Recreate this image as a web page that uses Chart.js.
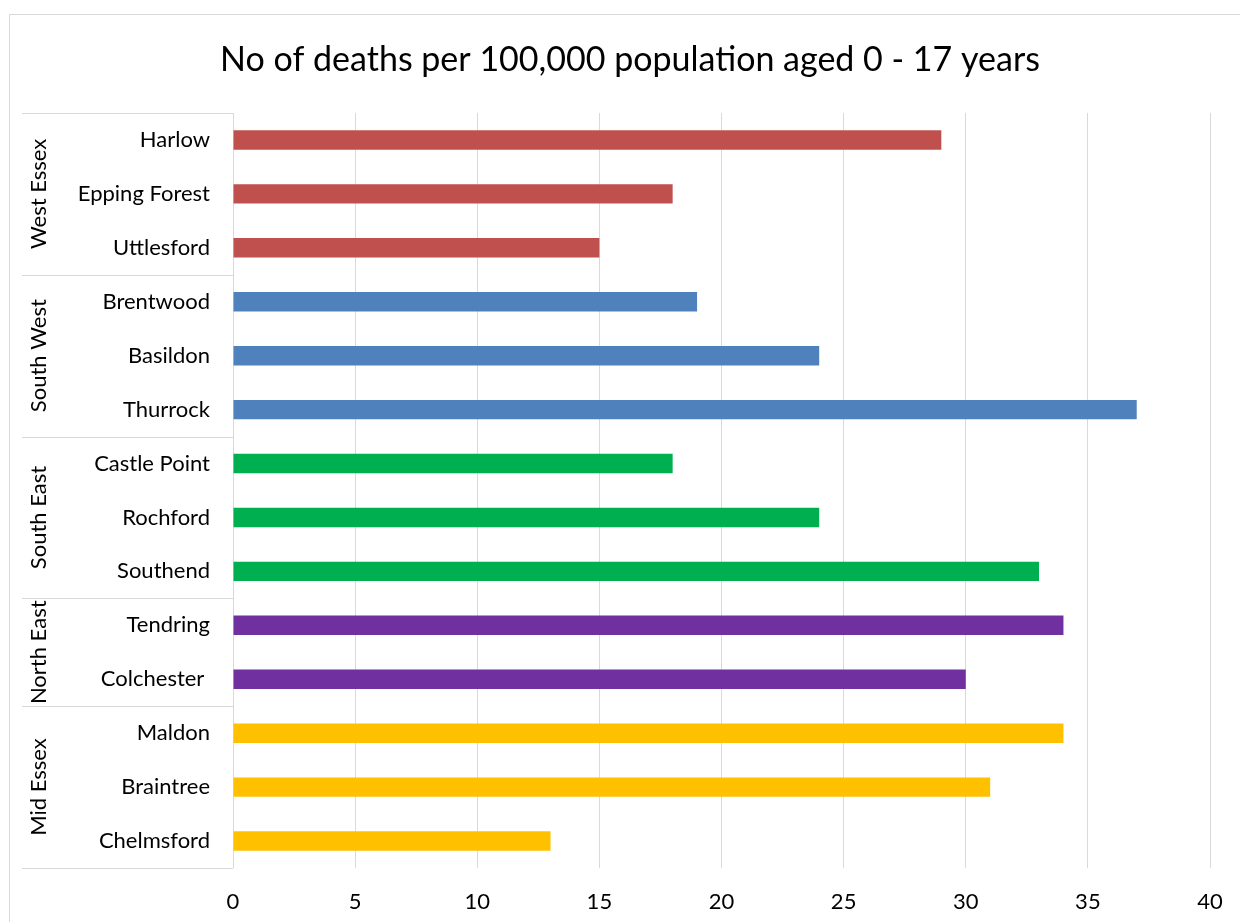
<!DOCTYPE html>
<html>
<head>
<meta charset="utf-8">
<script src="https://cdn.jsdelivr.net/npm/chart.js@4/dist/chart.umd.min.js"></script>
<style>
html,body{margin:0;padding:0;background:#fff;}
#wrap{width:1240px;height:922px;position:relative;}
</style>
</head>
<body>
<div id="wrap"><canvas id="c" width="1240" height="922"></canvas></div>
<script>
const titleText = 'No of deaths per 100,000 population aged 0 - 17 years';
const categories = ['Harlow','Epping Forest','Uttlesford','Brentwood','Basildon','Thurrock','Castle Point','Rochford','Southend','Tendring','Colchester ','Maldon','Braintree','Chelmsford'];
const values = [29,18,15,19,24,37,18,24,33,34,30,34,31,13];
const groupNames = ['West Essex','South West','South East','North East','Mid Essex'];
const groupSizes = [3,3,3,2,3];
const groupColors = ['#C0504D','#4F81BD','#00B050','#7030A0','#FFC000'];
const xTicks = [0,5,10,15,20,25,30,35,40];

const FONT = 'Lato';
const barColors = [];
groupSizes.forEach((n,i)=>{for(let k=0;k<n;k++) barColors.push(groupColors[i]);});

const decor = {
  id:'decor',
  beforeDraw(chart){
    const ctx = chart.ctx;
    ctx.save();
    ctx.strokeStyle = '#d9d9d9';
    ctx.lineWidth = 1;
    ctx.beginPath();
    ctx.moveTo(9.5, 922); ctx.lineTo(9.5, 14.5); ctx.lineTo(1240, 14.5);
    ctx.stroke();
    ctx.fillStyle = '#000';
    ctx.font = '34px ' + FONT;
    ctx.textAlign = 'center';
    ctx.textBaseline = 'middle';
    ctx.fillText(titleText, 630, 60);
    ctx.restore();
  },
  afterDraw(chart){
    const ctx = chart.ctx;
    const ys = chart.scales.y;
    const area = chart.chartArea;
    const step = ys.getPixelForValue(1) - ys.getPixelForValue(0);
    const x0 = 22;
    const x1 = area.left;
    ctx.save();
    ctx.strokeStyle = '#d9d9d9';
    ctx.lineWidth = 1;
    let idx = 0;
    const bounds = [];
    groupSizes.forEach((n,i)=>{
      const top = ys.getPixelForValue(idx) - step/2;
      const bot = ys.getPixelForValue(idx+n-1) + step/2;
      bounds.push(top);
      if(i===groupSizes.length-1) bounds.push(bot);
      ctx.fillStyle = '#000';
      ctx.font = '22px ' + FONT;
      ctx.textAlign = 'center';
      ctx.textBaseline = 'middle';
      ctx.save();
      ctx.translate(39, (top+bot)/2);
      ctx.rotate(-Math.PI/2);
      ctx.fillText(groupNames[i], 0, 0);
      ctx.restore();
      idx += n;
    });
    ctx.beginPath();
    bounds.forEach(b=>{
      const yy = Math.round(b)+0.5;
      ctx.moveTo(x0, yy); ctx.lineTo(x1, yy);
    });
    ctx.stroke();
    ctx.restore();
  }
};

new Chart(document.getElementById('c'), {
  type:'bar',
  data:{
    labels: categories,
    datasets:[{
      data: values,
      backgroundColor: barColors,
      borderWidth:0,
      barPercentage:0.36,
      categoryPercentage:1
    }]
  },
  options:{
    indexAxis:'y',
    responsive:false,
    animation:false,
    layout:{padding:{left:0,right:30,top:113,bottom:0}},
    plugins:{
      legend:{display:false},
      tooltip:{enabled:false},
      title:{display:false}
    },
    scales:{
      x:{
        min:0,max:40,
        afterBuildTicks(s){ s.ticks = xTicks.map(v=>({value:v})); },
        afterFit(s){ s.height = 54; s.paddingLeft = 0; s.paddingRight = 0; },
        grid:{color:'#d9d9d9',drawTicks:false},
        border:{display:false},
        ticks:{color:'#000',font:{family:FONT,size:22},padding:21}
      },
      y:{
        grid:{display:false,drawTicks:false},
        border:{display:false},
        afterFit(s){ s.width = 233; },
        ticks:{color:'#000',font:{family:FONT,size:22},padding:23}
      }
    }
  },
  plugins:[decor]
});
</script>
</body>
</html>
